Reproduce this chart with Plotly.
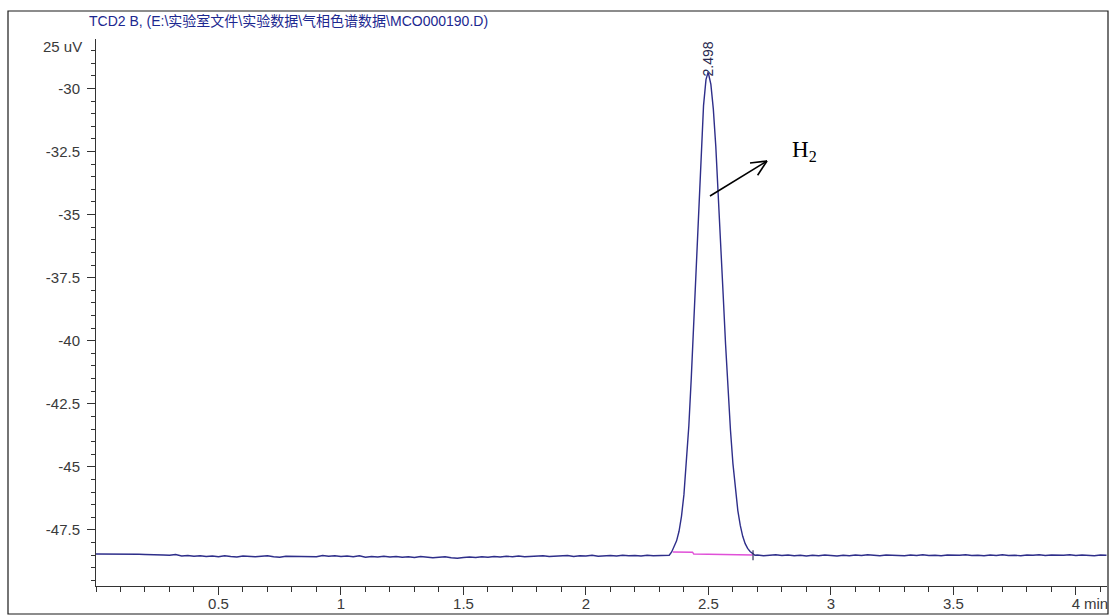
import plotly.graph_objects as go

# ---- chromatogram signal (TCD2 B), retention time in min, signal in uV ----
base_left_t = [0.000, 0.025, 0.050, 0.075, 0.100, 0.125, 0.150, 0.175, 0.200, 0.225,
               0.250, 0.275, 0.300, 0.325, 0.350, 0.375, 0.400, 0.425, 0.450, 0.475,
               0.500, 0.525, 0.550, 0.575, 0.600, 0.625, 0.650, 0.675, 0.700, 0.725,
               0.750, 0.775, 0.800, 0.825, 0.850, 0.875, 0.900, 0.925, 0.950, 0.975,
               1.000, 1.025, 1.050, 1.075, 1.100, 1.125, 1.150, 1.175, 1.200, 1.225,
               1.250, 1.275, 1.300, 1.325, 1.350, 1.375, 1.400, 1.425, 1.450, 1.475,
               1.500, 1.525, 1.550, 1.575, 1.600, 1.625, 1.650, 1.675, 1.700, 1.725,
               1.750, 1.775, 1.800, 1.825, 1.850, 1.875, 1.900, 1.925, 1.950, 1.975,
               2.000, 2.025, 2.050, 2.075, 2.100, 2.125, 2.150, 2.175, 2.200, 2.225,
               2.250, 2.275, 2.300, 2.325]
base_left_v = [-48.45, -48.45, -48.45, -48.45, -48.46, -48.44, -48.46, -48.46, -48.47, -48.47,
               -48.48, -48.49, -48.50, -48.47, -48.53, -48.51, -48.54, -48.52, -48.55, -48.53,
               -48.56, -48.52, -48.55, -48.57, -48.53, -48.55, -48.56, -48.54, -48.52, -48.56,
               -48.58, -48.54, -48.55, -48.53, -48.57, -48.55, -48.56, -48.51, -48.54, -48.52,
               -48.55, -48.53, -48.56, -48.52, -48.58, -48.55, -48.57, -48.54, -48.57, -48.55,
               -48.58, -48.56, -48.59, -48.55, -48.57, -48.60, -48.58, -48.56, -48.60, -48.62,
               -48.59, -48.57, -48.59, -48.56, -48.58, -48.55, -48.57, -48.54, -48.56, -48.53,
               -48.56, -48.54, -48.55, -48.52, -48.55, -48.53, -48.54, -48.51, -48.55, -48.52,
               -48.53, -48.50, -48.54, -48.52, -48.51, -48.53, -48.50, -48.52, -48.51, -48.53,
               -48.50, -48.52, -48.51, -48.52]

peak_t = [2.34, 2.35, 2.36, 2.37, 2.38, 2.39, 2.40, 2.41, 2.42, 2.43,
          2.44, 2.45, 2.46, 2.47, 2.48, 2.49, 2.498, 2.50, 2.51, 2.52,
          2.53, 2.54, 2.55, 2.56, 2.57, 2.58, 2.59, 2.60, 2.61, 2.62,
          2.63, 2.64, 2.65, 2.66, 2.67, 2.68, 2.69]
peak_v = [-48.50, -48.37, -48.17, -47.93, -47.55, -46.96, -46.10, -44.92, -43.38, -41.47,
          -39.27, -36.90, -34.52, -32.37, -30.68, -29.65, -29.38, -29.40, -29.84, -30.82,
          -32.28, -34.08, -36.09, -38.15, -40.15, -41.96, -43.55, -44.87, -45.92, -46.73,
          -47.32, -47.75, -48.04, -48.23, -48.35, -48.44, -48.50]

base_right_t = [2.700, 2.725, 2.750, 2.775, 2.800, 2.825, 2.850, 2.875, 2.900, 2.925,
                2.950, 2.975, 3.000, 3.025, 3.050, 3.075, 3.100, 3.125, 3.150, 3.175,
                3.200, 3.225, 3.250, 3.275, 3.300, 3.325, 3.350, 3.375, 3.400, 3.425,
                3.450, 3.475, 3.500, 3.525, 3.550, 3.575, 3.600, 3.625, 3.650, 3.675,
                3.700, 3.725, 3.750, 3.775, 3.800, 3.825, 3.850, 3.875, 3.900, 3.925,
                3.950, 3.975, 4.000, 4.025, 4.050, 4.075, 4.100, 4.125]
base_right_v = [-48.49, -48.52, -48.50, -48.48, -48.51, -48.49, -48.52, -48.50, -48.53, -48.50,
                -48.52, -48.49, -48.51, -48.53, -48.50, -48.52, -48.49, -48.51, -48.48, -48.51,
                -48.52, -48.49, -48.51, -48.50, -48.52, -48.49, -48.51, -48.48, -48.51, -48.50,
                -48.52, -48.49, -48.51, -48.50, -48.48, -48.51, -48.50, -48.52, -48.49, -48.51,
                -48.48, -48.51, -48.50, -48.52, -48.49, -48.50, -48.48, -48.51, -48.49, -48.51,
                -48.50, -48.48, -48.51, -48.49, -48.50, -48.52, -48.49, -48.50]

# integration baseline under the H2 peak
integ_t = [2.355, 2.435, 2.44, 2.68]
integ_v = [-48.37, -48.38, -48.45, -48.49]
peak_end_t = 2.682
peak_end_span = [-48.30, -48.70]

peak_rt = 2.498
peak_apex = -29.38

# axis ticks
y_tickvals = [-30, -32.5, -35, -37.5, -40, -42.5, -45, -47.5]
y_ticktext = ["-30", "-32.5", "-35", "-37.5", "-40", "-42.5", "-45", "-47.5"]
x_tickvals = [0.5, 1, 1.5, 2, 2.5, 3, 3.5, 4]
x_ticktext = ["0.5", "1", "1.5", "2", "2.5", "3", "3.5", "4"]

title_text = "TCD2 B, (E:\\实验室文件\\实验数据\\气相色谱数据\\MCO000190.D)"

# ---- layout geometry (pixels) ----
W, H = 1112, 615
L, R, T, B = 96, 1107, 39, 586


def px(x):
    return (x - L) / (R - L)


def py(y):
    return (B - y) / (B - T)


signal_t = base_left_t + peak_t + base_right_t
signal_v = base_left_v + peak_v + base_right_v

line_col = "#2e2e8a"
tick_font = dict(family="Liberation Sans, Arial, sans-serif", size=15, color="#3a3a3a")

fig = go.Figure()
fig.add_trace(go.Scatter(x=signal_t, y=signal_v, mode="lines",
                         line=dict(color=line_col, width=1.4), hoverinfo="skip"))
fig.add_trace(go.Scatter(x=integ_t, y=integ_v, mode="lines",
                         line=dict(color="#e050d8", width=1.4), hoverinfo="skip"))
fig.add_trace(go.Scatter(x=[peak_end_t, peak_end_t], y=peak_end_span, mode="lines",
                         line=dict(color="#303060", width=1.2), hoverinfo="skip"))

annotations = [
    # peak retention time label
    dict(x=peak_rt, xref="x", y=py(78), yref="paper", text=f"{peak_rt:.3f}",
         textangle=-90, showarrow=False, xanchor="center", yanchor="bottom",
         font=dict(family="Liberation Sans, Arial, sans-serif", size=14, color="#2a2a50")),
    # signal header
    dict(x=px(87), y=py(21), xref="paper", yref="paper", text=title_text,
         showarrow=False, xanchor="left", yanchor="middle",
         font=dict(family="Liberation Sans, Noto Sans CJK SC, sans-serif", size=14, color="#1c2890")),
    # unit label at the top of the signal axis
    dict(x=px(84), y=py(47), xref="paper", yref="paper", text="25 uV",
         showarrow=False, xanchor="right", yanchor="middle", font=tick_font),
    # unit label of the time axis
    dict(x=px(1082), y=py(603), xref="paper", yref="paper", text="min",
         showarrow=False, xanchor="left", yanchor="middle", font=tick_font),
    # component label
    dict(x=px(804), y=py(151), xref="paper", yref="paper", text="H<sub>2</sub>",
         showarrow=False, xanchor="center", yanchor="middle",
         font=dict(family="Liberation Serif, Times New Roman, serif", size=23, color="#000000")),
]

# pointer arrow with an open head
tail = (710, 196)
head = (767, 161)
wings = [(750, 163), (757.6, 175.2)]
shapes = [dict(type="line", xref="paper", yref="paper",
               x0=px(tail[0]), y0=py(tail[1]), x1=px(head[0]), y1=py(head[1]),
               line=dict(color="#000000", width=1.6))]
for wx, wy in wings:
    shapes.append(dict(type="line", xref="paper", yref="paper",
                       x0=px(wx), y0=py(wy), x1=px(head[0]), y1=py(head[1]),
                       line=dict(color="#000000", width=1.6)))
# outer frame
shapes.append(dict(type="rect", xref="paper", yref="paper",
                   x0=px(8), y0=py(11), x1=px(1108), y1=py(614),
                   line=dict(color="#1a1a1a", width=1.2), fillcolor="rgba(0,0,0,0)"))

fig.update_layout(
    width=W, height=H,
    margin=dict(l=L, r=W - R, t=T, b=H - B, pad=0, autoexpand=False),
    paper_bgcolor="white", plot_bgcolor="white",
    showlegend=False,
    annotations=annotations,
    shapes=shapes,
    xaxis=dict(range=[0, 4.127], showgrid=False, zeroline=False, automargin=False,
               showline=True, linecolor="#333333", linewidth=1,
               tickmode="array", tickvals=x_tickvals, ticktext=x_ticktext,
               ticks="outside", ticklen=8, tickwidth=1, tickcolor="#333333",
               tickfont=tick_font, ticklabelstandoff=-4,
               minor=dict(tickmode="linear", tick0=0, dtick=0.1, ticks="outside",
                          ticklen=5, tickwidth=1, tickcolor="#333333", showgrid=False)),
    yaxis=dict(range=[-49.72, -28.04], showgrid=False, zeroline=False, automargin=False,
               showline=True, linecolor="#333333", linewidth=1,
               tickmode="array", tickvals=y_tickvals, ticktext=y_ticktext,
               ticks="outside", ticklen=8, tickwidth=1, tickcolor="#333333",
               tickfont=tick_font, ticklabelstandoff=4,
               minor=dict(tickmode="linear", tick0=-30, dtick=0.5, ticks="outside",
                          ticklen=4, tickwidth=1, tickcolor="#333333", showgrid=False)),
)

fig.write_html("out.html")
